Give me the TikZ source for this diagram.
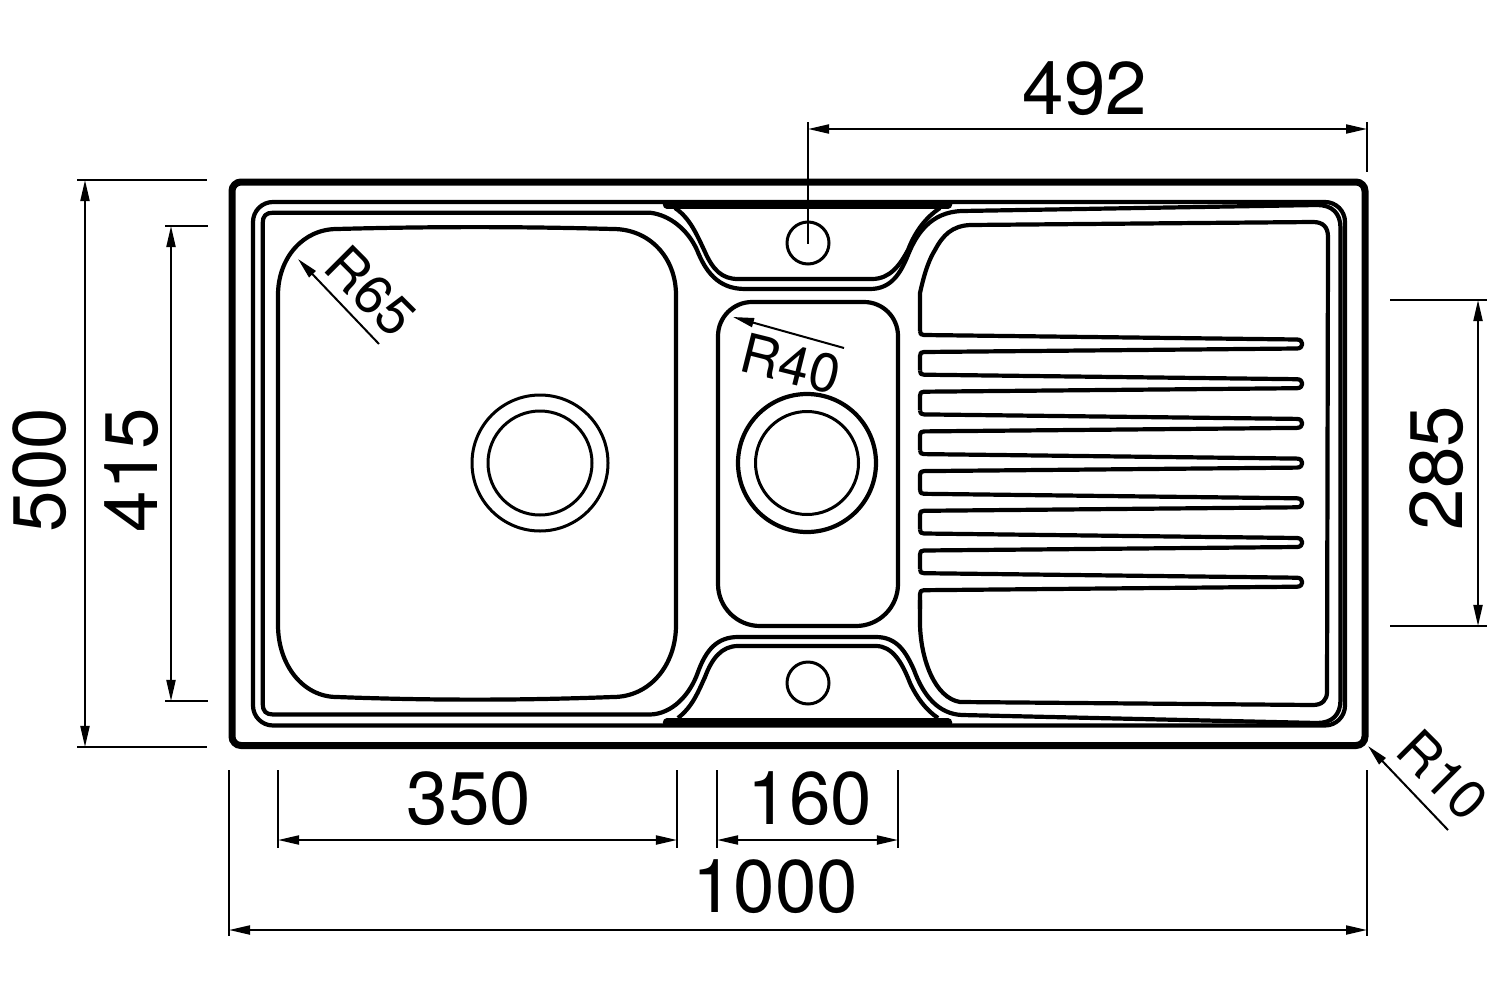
\documentclass[tikz,border=0pt]{standalone}
\usepackage{fontspec}
\setmainfont{TeX Gyre Heros}
\usetikzlibrary{arrows.meta}
\tikzset{
    sinkedge/.style={line width=0.07cm, rounded corners=0.09cm},
    sinkline/.style={line width=0.042cm, line join=round},
    ledgebar/.style={line width=0.085cm, line cap=round},
    wasteline/.style={line width=0.03cm},
    extline/.style={line width=0.02cm},
    dimline/.style={line width=0.02cm, {Triangle[length=0.21cm,width=0.09cm]}-{Triangle[length=0.21cm,width=0.09cm]}},
    radline/.style={line width=0.02cm, {Triangle[length=0.21cm,width=0.09cm]}-},
    dimtext/.style={inner sep=0pt, font=\fontsize{21.2}{25}\selectfont},
    radtext/.style={inner sep=0pt, font=\fontsize{15.5}{19}\selectfont}
}
\begin{document}
\begin{tikzpicture}[x=0.01cm,y=-0.01cm]
    \useasboundingbox (0,0) rectangle (1500,1000);

    \draw[sinkedge] (232,182) rectangle (1365,745.5);
    \draw[sinkline, rounded corners=0.2cm] (253,202) rectangle (1345,725.5);

    \draw[ledgebar] (667,204.5) -- (948,204.5);
    \draw[ledgebar] (667,722.5) -- (948,722.5);

    \draw[sinkline] (650,212.7) -- (273,212.7) .. controls (266,212.7) and (262.7,216) .. (262.7,223)
        -- (262.7,704) .. controls (262.7,711) and (266,714.5) .. (273,714.5) -- (650,714.5)
        .. controls (672,714) and (690,695) .. (698,672) .. controls (706,650) and (717,637) .. (738,637)
        -- (876,637) .. controls (897,637) and (906,652) .. (914,670) .. controls (923,695) and (938,714) .. (962,715)
        -- (1317,723) .. controls (1332,723) and (1340.5,715) .. (1340.5,700) -- (1340.5,228)
        .. controls (1340.5,213) and (1332,205) .. (1317,205) -- (962,211)
        .. controls (930,212) and (916,235) .. (908,255) .. controls (901,272) and (892,289) .. (870,289)
        -- (745,289) .. controls (717,289) and (705,270) .. (697,250) .. controls (688,230) and (670,215) .. (650,212.7);

    \draw[sinkline] (675,208) .. controls (690,218) and (697,235) .. (705,252)
        .. controls (713,270) and (722,279) .. (738,279) -- (872,279)
        .. controls (890,279) and (900,265) .. (908,250) .. controls (915,232) and (925,218) .. (940,208);

    \draw[sinkline] (678,718) .. controls (693,706) and (698,692) .. (705,677)
        .. controls (712,658) and (722,646) .. (738,646) -- (876,646)
        .. controls (892,646) and (902,662) .. (910,683) .. controls (917,698) and (926,710) .. (938,718);

    \draw[sinkline] (337,229) .. controls (430,226.5) and (520,226.5) .. (613,229)
        .. controls (650,229) and (676,258) .. (676,295)
        -- (676,625) .. controls (676,665) and (650,697) .. (613,697)
        .. controls (520,700.5) and (430,700.5) .. (337,697)
        .. controls (303,697) and (278,665) .. (278,625)
        -- (278,295) .. controls (278,258) and (303,229) .. (337,229) -- cycle;

    \draw[sinkline] (808,302) [rounded corners=0.34cm] -- (718,302) -- (718,460)
        [rounded corners=0.42cm] -- (718,626) -- (898,626) -- (898,460)
        [rounded corners=0.34cm] -- (898,302) -- cycle;

    \draw[wasteline] (540,463) circle (68);
    \draw[wasteline] (540,463) circle (52);
    \draw[sinkline] (807,463) circle (69);
    \draw[wasteline] (807,463) circle (51.5);

    \draw[wasteline] (808,243) circle (21);
    \draw[wasteline] (808,683) circle (21);

    \draw[sinkline] (920,331) -- (920,293) .. controls (925,270) and (930,258) .. (935,250)
        .. controls (943,235) and (952,226) .. (970,225) -- (1313,222)
        .. controls (1323,222) and (1328,227) .. (1328,237) -- (1327,692)
        .. controls (1327,700) and (1322,705) .. (1313,705) -- (960,702)
        .. controls (935,698) and (921,660) .. (920,625) -- (920,600);

    \foreach \tineY in {344,383.7,423.4,463.1,502.8,542.5,582.2} {
        \draw[sinkline] (920,{\tineY-13}) .. controls (920,{\tineY-10}) and (921,{\tineY-9}) .. (924,{\tineY-9})
            -- (1297,{\tineY-4.5}) .. controls (1304,{\tineY-4.5}) and (1304,{\tineY+4.5}) .. (1297,{\tineY+4.5})
            -- (924,{\tineY+8}) .. controls (921,{\tineY+8}) and (920,{\tineY+9}) .. (920,{\tineY+12})
            -- (920,{\tineY+26.7});
    }

    \draw[extline] (808,122) -- (808,244);
    \draw[extline] (1367,122) -- (1367,172);
    \draw[dimline] (808,129) -- (1367,129);
    \node[dimtext] (len492) at (1085,89) {492};

    \draw[extline] (77,180) -- (207,180);
    \draw[extline] (77,747) -- (207,747);
    \draw[dimline] (85,180) -- (85,747);
    \node[dimtext, rotate=90] (len500) at (40,470) {500};

    \draw[extline] (165,226) -- (208,226);
    \draw[extline] (165,701) -- (208,701);
    \draw[dimline] (171,226) -- (171,701);
    \node[dimtext, rotate=90] (len415) at (132,470) {415};

    \draw[extline] (1390,300) -- (1487,300);
    \draw[extline] (1390,626) -- (1487,626);
    \draw[dimline] (1478,300) -- (1478,626);
    \node[dimtext, rotate=90] (len285) at (1437,468) {285};

    \draw[extline] (278,770) -- (278,848);
    \draw[extline] (677,770) -- (677,848);
    \draw[dimline] (278,840) -- (677,840);
    \node[dimtext] (len350) at (469,799) {350};

    \draw[extline] (717,770) -- (717,848);
    \draw[extline] (898,770) -- (898,848);
    \draw[dimline] (717,840) -- (898,840);
    \node[dimtext] (len160) at (810,799) {160};

    \draw[extline] (229,770) -- (229,936);
    \draw[extline] (1367,770) -- (1367,936);
    \draw[dimline] (229,930) -- (1367,930);
    \node[dimtext] (len1000) at (775,887) {1000};

    \draw[radline] (298,259) -- (379,344);
    \node[radtext, rotate=-45] (rad65) at (371,291) {R65};

    \draw[radline] (733,317) -- (844,348);
    \node[radtext, rotate=-14] (rad40) at (791,364) {R40};

    \draw[radline] (1368,746) -- (1448,830);
    \node[radtext, rotate=-45] (rad10) at (1443,775) {R10};
\end{tikzpicture}
\end{document}
